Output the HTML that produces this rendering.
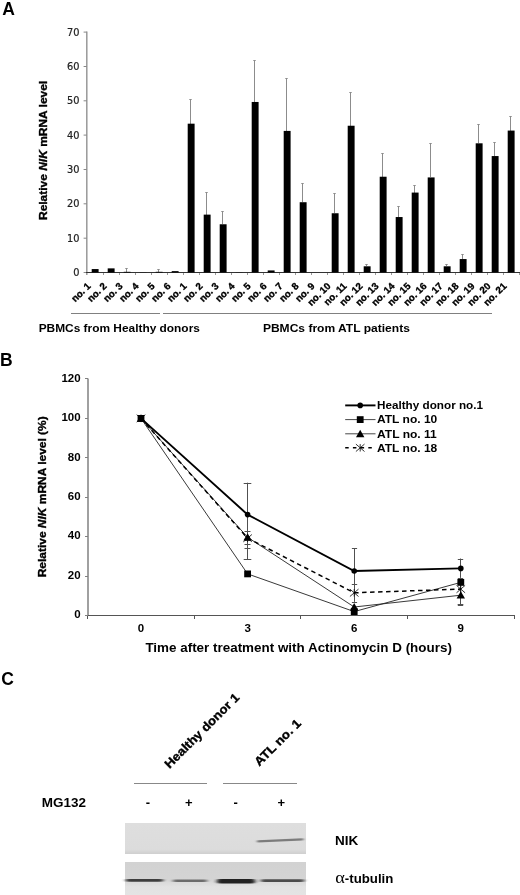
<!DOCTYPE html>
<html lang="en"><head><meta charset="utf-8"><title>Figure</title>
<style>
html,body{margin:0;padding:0;background:#fff;}
svg{display:block;filter:grayscale(1);}
text{font-family:"Liberation Sans", sans-serif;fill:#000;}
.b{font-weight:bold;}
.i{font-style:italic;}
.sf{font-family:"Liberation Serif", serif;font-weight:normal;}
.rt{stroke:#000;stroke-width:0.35px;}
.ax{stroke:#808080;stroke-width:1;fill:none;shape-rendering:crispEdges;}
.eb{stroke:#8c8c8c;stroke-width:1;fill:none;shape-rendering:crispEdges;}
.tk{font-family:"DejaVu Sans", "Liberation Sans", sans-serif;font-size:9.8px;fill:#222;stroke:#222;stroke-width:0.2px;}
</style></head><body>
<svg width="520" height="895" viewBox="0 0 520 895">
<rect x="0" y="0" width="520" height="895" fill="#fff"/>
<g id="panelA">
<text class="b" x="2.3" y="14.8" font-size="17.5">A</text>
<path d="M86.8 31.6V275.0" stroke="#999" stroke-width="1.5" fill="none"/>
<path d="M83.6 272.5H86.8" stroke="#888" stroke-width="1" fill="none"/>
<text class="tk" x="79.5" y="276.1" text-anchor="end">0</text>
<path d="M83.6 238.2H86.8" stroke="#888" stroke-width="1" fill="none"/>
<text class="tk" x="79.5" y="241.8" text-anchor="end">10</text>
<path d="M83.6 203.8H86.8" stroke="#888" stroke-width="1" fill="none"/>
<text class="tk" x="79.5" y="207.4" text-anchor="end">20</text>
<path d="M83.6 169.5H86.8" stroke="#888" stroke-width="1" fill="none"/>
<text class="tk" x="79.5" y="173.1" text-anchor="end">30</text>
<path d="M83.6 135.1H86.8" stroke="#888" stroke-width="1" fill="none"/>
<text class="tk" x="79.5" y="138.7" text-anchor="end">40</text>
<path d="M83.6 100.8H86.8" stroke="#888" stroke-width="1" fill="none"/>
<text class="tk" x="79.5" y="104.4" text-anchor="end">50</text>
<path d="M83.6 66.5H86.8" stroke="#888" stroke-width="1" fill="none"/>
<text class="tk" x="79.5" y="70.1" text-anchor="end">60</text>
<path d="M83.6 32.1H86.8" stroke="#888" stroke-width="1" fill="none"/>
<text class="tk" x="79.5" y="35.7" text-anchor="end">70</text>
<path class="ax" style="stroke:#999" d="M103.5 272.5V275.0"/>
<path class="ax" style="stroke:#999" d="M119.5 272.5V275.0"/>
<path class="ax" style="stroke:#999" d="M135.5 272.5V275.0"/>
<path class="ax" style="stroke:#999" d="M151.5 272.5V275.0"/>
<path class="ax" style="stroke:#999" d="M167.5 272.5V275.0"/>
<path class="ax" style="stroke:#999" d="M183.5 272.5V275.0"/>
<path class="ax" style="stroke:#999" d="M199.5 272.5V275.0"/>
<path class="ax" style="stroke:#999" d="M215.5 272.5V275.0"/>
<path class="ax" style="stroke:#999" d="M231.5 272.5V275.0"/>
<path class="ax" style="stroke:#999" d="M247.5 272.5V275.0"/>
<path class="ax" style="stroke:#999" d="M263.5 272.5V275.0"/>
<path class="ax" style="stroke:#999" d="M279.5 272.5V275.0"/>
<path class="ax" style="stroke:#999" d="M295.5 272.5V275.0"/>
<path class="ax" style="stroke:#999" d="M311.5 272.5V275.0"/>
<path class="ax" style="stroke:#999" d="M327.5 272.5V275.0"/>
<path class="ax" style="stroke:#999" d="M343.5 272.5V275.0"/>
<path class="ax" style="stroke:#999" d="M359.5 272.5V275.0"/>
<path class="ax" style="stroke:#999" d="M375.5 272.5V275.0"/>
<path class="ax" style="stroke:#999" d="M391.5 272.5V275.0"/>
<path class="ax" style="stroke:#999" d="M407.5 272.5V275.0"/>
<path class="ax" style="stroke:#999" d="M423.5 272.5V275.0"/>
<path class="ax" style="stroke:#999" d="M439.5 272.5V275.0"/>
<path class="ax" style="stroke:#999" d="M455.5 272.5V275.0"/>
<path class="ax" style="stroke:#999" d="M471.5 272.5V275.0"/>
<path class="ax" style="stroke:#999" d="M487.5 272.5V275.0"/>
<path class="ax" style="stroke:#999" d="M503.5 272.5V275.0"/>
<path class="ax" style="stroke:#999" d="M519.5 272.5V275.0"/>
<path class="ax" style="stroke:#333" d="M86 272.5H520"/>
<text class="b rt" transform="translate(46.8 220.0) rotate(-90)" font-size="11.4" textLength="139.2" lengthAdjust="spacingAndGlyphs">Relative <tspan class="i">NIK</tspan> mRNA level</text>
<rect x="91.7" y="269.06" width="6.9" height="3.44" fill="#000"/>
<rect x="107.7" y="268.37" width="6.9" height="4.13" fill="#000"/>
<path class="eb" d="M126.5 268.0V271.8"/><rect x="125.3" y="268.0" width="2.4" height="1" fill="#8c8c8c"/>
<rect x="123.7" y="271.81" width="6.9" height="0.69" fill="#000"/>
<rect x="139.7" y="272.33" width="6.9" height="0.17" fill="#000"/>
<path class="eb" d="M158.5 269.1V271.8"/><rect x="157.3" y="269.0" width="2.4" height="1" fill="#8c8c8c"/>
<rect x="155.7" y="271.81" width="6.9" height="0.69" fill="#000"/>
<rect x="171.7" y="271.12" width="6.9" height="1.38" fill="#000"/>
<path class="eb" d="M190.5 98.5V123.7"/><rect x="189.3" y="99.0" width="2.4" height="1" fill="#8c8c8c"/>
<rect x="187.7" y="123.68" width="6.9" height="148.82" fill="#000"/>
<path class="eb" d="M206.5 191.5V214.6"/><rect x="205.3" y="192.0" width="2.4" height="1" fill="#8c8c8c"/>
<rect x="203.7" y="214.62" width="6.9" height="57.88" fill="#000"/>
<path class="eb" d="M222.5 210.8V224.3"/><rect x="221.3" y="211.0" width="2.4" height="1" fill="#8c8c8c"/>
<rect x="219.7" y="224.27" width="6.9" height="48.23" fill="#000"/>
<rect x="235.7" y="272.33" width="6.9" height="0.17" fill="#000"/>
<path class="eb" d="M254.5 59.9V102.0"/><rect x="253.3" y="60.0" width="2.4" height="1" fill="#8c8c8c"/>
<rect x="251.7" y="101.97" width="6.9" height="170.53" fill="#000"/>
<rect x="267.7" y="270.43" width="6.9" height="2.07" fill="#000"/>
<path class="eb" d="M286.5 77.9V130.9"/><rect x="285.3" y="78.0" width="2.4" height="1" fill="#8c8c8c"/>
<rect x="283.7" y="130.91" width="6.9" height="141.59" fill="#000"/>
<path class="eb" d="M302.5 182.6V202.2"/><rect x="301.3" y="183.0" width="2.4" height="1" fill="#8c8c8c"/>
<rect x="299.7" y="202.22" width="6.9" height="70.28" fill="#000"/>
<path class="eb" d="M334.5 192.9V213.2"/><rect x="333.3" y="193.0" width="2.4" height="1" fill="#8c8c8c"/>
<rect x="331.7" y="213.25" width="6.9" height="59.25" fill="#000"/>
<path class="eb" d="M350.5 92.3V125.7"/><rect x="349.3" y="92.0" width="2.4" height="1" fill="#8c8c8c"/>
<rect x="347.7" y="125.74" width="6.9" height="146.76" fill="#000"/>
<path class="eb" d="M366.5 263.5V266.3"/><rect x="365.3" y="264.0" width="2.4" height="1" fill="#8c8c8c"/>
<rect x="363.7" y="266.30" width="6.9" height="6.20" fill="#000"/>
<path class="eb" d="M382.5 152.6V176.7"/><rect x="381.3" y="153.0" width="2.4" height="1" fill="#8c8c8c"/>
<rect x="379.7" y="176.73" width="6.9" height="95.77" fill="#000"/>
<path class="eb" d="M398.5 206.4V217.0"/><rect x="397.3" y="206.0" width="2.4" height="1" fill="#8c8c8c"/>
<rect x="395.7" y="217.04" width="6.9" height="55.46" fill="#000"/>
<path class="eb" d="M414.5 185.3V192.6"/><rect x="413.3" y="185.0" width="2.4" height="1" fill="#8c8c8c"/>
<rect x="411.7" y="192.58" width="6.9" height="79.92" fill="#000"/>
<path class="eb" d="M430.5 143.3V177.4"/><rect x="429.3" y="143.0" width="2.4" height="1" fill="#8c8c8c"/>
<rect x="427.7" y="177.42" width="6.9" height="95.08" fill="#000"/>
<path class="eb" d="M446.5 263.5V266.3"/><rect x="445.3" y="264.0" width="2.4" height="1" fill="#8c8c8c"/>
<rect x="443.7" y="266.30" width="6.9" height="6.20" fill="#000"/>
<path class="eb" d="M462.5 254.2V259.1"/><rect x="461.3" y="254.0" width="2.4" height="1" fill="#8c8c8c"/>
<rect x="459.7" y="259.06" width="6.9" height="13.44" fill="#000"/>
<path class="eb" d="M478.5 123.7V143.3"/><rect x="477.3" y="124.0" width="2.4" height="1" fill="#8c8c8c"/>
<rect x="475.7" y="143.31" width="6.9" height="129.19" fill="#000"/>
<path class="eb" d="M494.5 142.3V156.1"/><rect x="493.3" y="142.0" width="2.4" height="1" fill="#8c8c8c"/>
<rect x="491.7" y="156.06" width="6.9" height="116.44" fill="#000"/>
<path class="eb" d="M510.5 116.1V130.6"/><rect x="509.3" y="116.0" width="2.4" height="1" fill="#8c8c8c"/>
<rect x="507.7" y="130.57" width="6.9" height="141.93" fill="#000"/>
<text class="b rt" transform="translate(91.2 286.6) rotate(-45)" font-size="9.7" text-anchor="end">no. 1</text>
<text class="b rt" transform="translate(107.2 286.6) rotate(-45)" font-size="9.7" text-anchor="end">no. 2</text>
<text class="b rt" transform="translate(123.2 286.6) rotate(-45)" font-size="9.7" text-anchor="end">no. 3</text>
<text class="b rt" transform="translate(139.2 286.6) rotate(-45)" font-size="9.7" text-anchor="end">no. 4</text>
<text class="b rt" transform="translate(155.2 286.6) rotate(-45)" font-size="9.7" text-anchor="end">no. 5</text>
<text class="b rt" transform="translate(171.2 286.6) rotate(-45)" font-size="9.7" text-anchor="end">no. 6</text>
<text class="b rt" transform="translate(187.2 286.6) rotate(-45)" font-size="9.7" text-anchor="end">no. 1</text>
<text class="b rt" transform="translate(203.2 286.6) rotate(-45)" font-size="9.7" text-anchor="end">no. 2</text>
<text class="b rt" transform="translate(219.2 286.6) rotate(-45)" font-size="9.7" text-anchor="end">no. 3</text>
<text class="b rt" transform="translate(235.2 286.6) rotate(-45)" font-size="9.7" text-anchor="end">no. 4</text>
<text class="b rt" transform="translate(251.2 286.6) rotate(-45)" font-size="9.7" text-anchor="end">no. 5</text>
<text class="b rt" transform="translate(267.2 286.6) rotate(-45)" font-size="9.7" text-anchor="end">no. 6</text>
<text class="b rt" transform="translate(283.2 286.6) rotate(-45)" font-size="9.7" text-anchor="end">no. 7</text>
<text class="b rt" transform="translate(299.2 286.6) rotate(-45)" font-size="9.7" text-anchor="end">no. 8</text>
<text class="b rt" transform="translate(315.2 286.6) rotate(-45)" font-size="9.7" text-anchor="end">no. 9</text>
<text class="b rt" transform="translate(331.2 286.6) rotate(-45)" font-size="9.7" text-anchor="end">no. 10</text>
<text class="b rt" transform="translate(347.2 286.6) rotate(-45)" font-size="9.7" text-anchor="end">no. 11</text>
<text class="b rt" transform="translate(363.2 286.6) rotate(-45)" font-size="9.7" text-anchor="end">no. 12</text>
<text class="b rt" transform="translate(379.2 286.6) rotate(-45)" font-size="9.7" text-anchor="end">no. 13</text>
<text class="b rt" transform="translate(395.2 286.6) rotate(-45)" font-size="9.7" text-anchor="end">no. 14</text>
<text class="b rt" transform="translate(411.2 286.6) rotate(-45)" font-size="9.7" text-anchor="end">no. 15</text>
<text class="b rt" transform="translate(427.2 286.6) rotate(-45)" font-size="9.7" text-anchor="end">no. 16</text>
<text class="b rt" transform="translate(443.2 286.6) rotate(-45)" font-size="9.7" text-anchor="end">no. 17</text>
<text class="b rt" transform="translate(459.2 286.6) rotate(-45)" font-size="9.7" text-anchor="end">no. 18</text>
<text class="b rt" transform="translate(475.2 286.6) rotate(-45)" font-size="9.7" text-anchor="end">no. 19</text>
<text class="b rt" transform="translate(491.2 286.6) rotate(-45)" font-size="9.7" text-anchor="end">no. 20</text>
<text class="b rt" transform="translate(507.2 286.6) rotate(-45)" font-size="9.7" text-anchor="end">no. 21</text>
<path class="ax" d="M71 313.5H159.5M163 313.5H491.5"/>
<text class="b" x="38.7" y="331.6" font-size="11" textLength="161.2" lengthAdjust="spacingAndGlyphs">PBMCs from Healthy donors</text>
<text class="b" x="262.9" y="331.6" font-size="11" textLength="147.0" lengthAdjust="spacingAndGlyphs">PBMCs from ATL patients</text>
</g>
<g id="panelB">
<text class="b" x="0.1" y="365.8" font-size="17.5">B</text>
<path d="M88.0 378.5V615.5" stroke="#808080" stroke-width="1.5" fill="none"/>
<path class="ax" d="M84.5 615.5H88.0"/>
<text class="b" x="80.6" y="618.2" font-size="11.5" text-anchor="end">0</text>
<path class="ax" d="M84.5 576.5H88.0"/>
<text class="b" x="80.6" y="578.8" font-size="11.5" text-anchor="end">20</text>
<path class="ax" d="M84.5 536.5H88.0"/>
<text class="b" x="80.6" y="539.4" font-size="11.5" text-anchor="end">40</text>
<path class="ax" d="M84.5 497.5H88.0"/>
<text class="b" x="80.6" y="499.9" font-size="11.5" text-anchor="end">60</text>
<path class="ax" d="M84.5 457.5H88.0"/>
<text class="b" x="80.6" y="460.5" font-size="11.5" text-anchor="end">80</text>
<path class="ax" d="M84.5 418.5H88.0"/>
<text class="b" x="80.6" y="421.1" font-size="11.5" text-anchor="end">100</text>
<path class="ax" d="M84.5 378.5H88.0"/>
<text class="b" x="80.6" y="381.7" font-size="11.5" text-anchor="end">120</text>
<path class="ax" style="stroke:#555" d="M88.0 615.5H515"/>
<path class="ax" style="stroke:#555" d="M87.5 615.5V618.5"/>
<path class="ax" style="stroke:#555" d="M194.5 615.5V618.5"/>
<path class="ax" style="stroke:#555" d="M300.5 615.5V618.5"/>
<path class="ax" style="stroke:#555" d="M407.5 615.5V618.5"/>
<path class="ax" style="stroke:#555" d="M514.5 615.5V618.5"/>
<text class="b" x="141.0" y="632.2" font-size="11.5" text-anchor="middle">0</text>
<text class="b" x="247.6" y="632.2" font-size="11.5" text-anchor="middle">3</text>
<text class="b" x="354.2" y="632.2" font-size="11.5" text-anchor="middle">6</text>
<text class="b" x="460.8" y="632.2" font-size="11.5" text-anchor="middle">9</text>
<text class="b" x="145.4" y="652.0" font-size="12.9" textLength="306.5" lengthAdjust="spacingAndGlyphs">Time after treatment with Actinomycin D (hours)</text>
<text class="b rt" transform="translate(46.3 577.3) rotate(-90)" font-size="11.2" textLength="161.0" lengthAdjust="spacingAndGlyphs">Relative <tspan class="i">NIK</tspan> mRNA level (%)</text>
<path d="M247.5 482.7V559.1M243.7 483.5H251.3M243.7 559.5H251.3" stroke="#505050" stroke-width="1" fill="none"/>
<path d="M247.5 530.7V547.7M244.5 531.5H250.5M244.5 548.5H250.5" stroke="#505050" stroke-width="1" fill="none"/>
<path d="M247.5 540.0V543.8M244.5 540.5H250.5M244.5 544.5H250.5" stroke="#505050" stroke-width="1" fill="none"/>
<path d="M354.5 548.3V601.9M351.9 548.5H357.1M351.9 602.5H357.1" stroke="#505050" stroke-width="1" fill="none"/>
<path d="M354.5 584.4V584.4M351.9 584.5H357.1M351.9 584.5H357.1" stroke="#505050" stroke-width="1" fill="none"/>
<path d="M460.5 558.5V577.9M457.8 559.5H463.2M457.8 578.5H463.2" stroke="#505050" stroke-width="1" fill="none"/>
<path d="M460.5 584.0V605.4M457.8 584.5H463.2M457.8 605.5H463.2" stroke="#505050" stroke-width="1" fill="none"/>
<path d="M460.5 603.9V603.9M457.8 604.5H463.2M457.8 604.5H463.2" stroke="#505050" stroke-width="1" fill="none"/>
<polyline points="141.0,418.4 247.6,573.9 354.2,611.6 460.8,582.4" fill="none" stroke="#222" stroke-width="0.9"/>
<polyline points="141.0,418.4 247.6,537.3 354.2,607.0 460.8,595.2" fill="none" stroke="#222" stroke-width="0.9"/>
<polyline points="141.0,418.4 247.6,538.2 354.2,592.8 460.8,589.1" fill="none" stroke="#000" stroke-width="1.5" stroke-dasharray="4.5 3.5"/>
<polyline points="141.0,418.4 247.6,514.6 354.2,571.0 460.8,568.4" fill="none" stroke="#000" stroke-width="1.9"/>
<rect x="137.6" y="415.0" width="6.8" height="6.8" fill="#000"/>
<rect x="244.2" y="570.5" width="6.8" height="6.8" fill="#000"/>
<rect x="350.8" y="608.2" width="6.8" height="6.8" fill="#000"/>
<rect x="457.4" y="579.0" width="6.8" height="6.8" fill="#000"/>
<path d="M141.0 414.4L145.2 421.8H136.8Z" fill="#000"/>
<path d="M247.6 533.3L251.8 540.6H243.4Z" fill="#000"/>
<path d="M354.2 603.0L358.4 610.4H350.0Z" fill="#000"/>
<path d="M460.8 591.2L465.0 598.6H456.6Z" fill="#000"/>
<path d="M136.7 414.7L145.3 422.1M136.7 422.1L145.3 414.7M141.0 414.7V422.1" stroke="#000" stroke-width="0.8" fill="none"/>
<path d="M243.3 534.5L251.9 541.9M243.3 541.9L251.9 534.5M247.6 534.5V541.9" stroke="#000" stroke-width="0.8" fill="none"/>
<path d="M349.9 589.1L358.5 596.5M349.9 596.5L358.5 589.1M354.2 589.1V596.5" stroke="#000" stroke-width="0.8" fill="none"/>
<path d="M456.5 585.4L465.1 592.8M456.5 592.8L465.1 585.4M460.8 585.4V592.8" stroke="#000" stroke-width="0.8" fill="none"/>
<circle cx="141.0" cy="418.4" r="2.8" fill="#000"/>
<circle cx="247.6" cy="514.6" r="2.8" fill="#000"/>
<circle cx="354.2" cy="571.0" r="2.8" fill="#000"/>
<circle cx="460.8" cy="568.4" r="2.8" fill="#000"/>
<path d="M345.2 405.4H375.5" stroke="#000" stroke-width="1.9"/>
<circle cx="360.2" cy="405.4" r="2.8" fill="#000"/>
<path d="M345.2 419.6H375.5" stroke="#333" stroke-width="0.9"/>
<rect x="356.8" y="416.2" width="6.8" height="6.8" fill="#000"/>
<path d="M345.2 433.8H375.5" stroke="#333" stroke-width="0.9"/>
<path d="M360.2 429.8L364.4 437.2H356.0Z" fill="#000"/>
<path d="M345.2 447.8H375.5" stroke="#000" stroke-width="1.5" stroke-dasharray="3.5 4.2"/>
<path d="M355.9 444.1L364.5 451.5M355.9 451.5L364.5 444.1M360.2 444.1V451.5" stroke="#000" stroke-width="0.8" fill="none"/>
<text class="b" x="377.0" y="409.1" font-size="11.3" textLength="106.0" lengthAdjust="spacingAndGlyphs">Healthy donor no.1</text>
<text class="b" x="377.0" y="423.3" font-size="11.3" textLength="60.3" lengthAdjust="spacingAndGlyphs">ATL no. 10</text>
<text class="b" x="377.0" y="437.5" font-size="11.3" textLength="59.8" lengthAdjust="spacingAndGlyphs">ATL no. 11</text>
<text class="b" x="377.0" y="451.5" font-size="11.3" textLength="60.3" lengthAdjust="spacingAndGlyphs">ATL no. 18</text>
</g>
<g id="panelC">
<defs>
<filter id="bl" x="-20%" y="-300%" width="140%" height="700%"><feGaussianBlur stdDeviation="1.4 0.6"/></filter>
<filter id="bl2" x="-20%" y="-300%" width="140%" height="700%"><feGaussianBlur stdDeviation="2.0 0.65"/></filter>
<linearGradient id="g1" x1="0" y1="0" x2="0" y2="1"><stop offset="0" stop-color="#dedede"/><stop offset="0.85" stop-color="#dcdcdc"/><stop offset="1" stop-color="#cfcfcf"/></linearGradient>
<linearGradient id="g2" x1="0" y1="0" x2="0" y2="1"><stop offset="0" stop-color="#d2d2d2"/><stop offset="0.5" stop-color="#d4d4d4"/><stop offset="0.75" stop-color="#e2e2e2"/><stop offset="1" stop-color="#e4e4e4"/></linearGradient>
</defs>
<text class="b" x="1.2" y="684.9" font-size="17.5">C</text>
<text class="b rt" transform="translate(169.5 769.0) rotate(-45)" font-size="12.2" textLength="100.0" lengthAdjust="spacingAndGlyphs">Healthy donor 1</text>
<text class="b rt" transform="translate(259.2 766.8) rotate(-45)" font-size="12.2" textLength="60.2" lengthAdjust="spacingAndGlyphs">ATL no. 1</text>
<path class="ax" style="stroke:#888" d="M133.5 783.5H206.5M222.5 783.5H296.5"/>
<text class="b" x="41.7" y="806.7" font-size="12.8" textLength="44.2" lengthAdjust="spacingAndGlyphs">MG132</text>
<text class="b" x="148.0" y="807.0" font-size="13" text-anchor="middle">-</text>
<text class="b" x="188.8" y="807.0" font-size="13" text-anchor="middle">+</text>
<text class="b" x="235.6" y="807.0" font-size="13" text-anchor="middle">-</text>
<text class="b" x="281.3" y="807.0" font-size="13" text-anchor="middle">+</text>
<rect x="125" y="823" width="181" height="31" fill="url(#g1)"/>
<rect x="125" y="862" width="181" height="33" fill="url(#g2)"/>
<path d="M258 841.4 L302.5 839.3" stroke="#7c7c7c" stroke-width="2.2" stroke-linecap="round" filter="url(#bl)"/>
<rect x="126.0" y="878.9" width="37.0" height="2.8" rx="1.4" fill="#3c3c3c" filter="url(#bl2)"/>
<rect x="173.0" y="879.6" width="34.0" height="2.3" rx="1.1" fill="#6c6c6c" filter="url(#bl2)"/>
<rect x="217.0" y="879.0" width="38.0" height="4.6" rx="2.3" fill="#222" filter="url(#bl2)"/>
<rect x="261.0" y="879.2" width="43.0" height="2.8" rx="1.4" fill="#4c4c4c" filter="url(#bl2)"/>
<text class="b" x="334.9" y="845.2" font-size="12.8" textLength="23.3" lengthAdjust="spacingAndGlyphs">NIK</text>
<text class="sf" x="335.3" y="883.4" font-size="16" textLength="9.6" lengthAdjust="spacingAndGlyphs">α</text>
<text class="b" x="344.8" y="883.4" font-size="13" textLength="48.6" lengthAdjust="spacingAndGlyphs">-tubulin</text>
</g>
</svg></body></html>
